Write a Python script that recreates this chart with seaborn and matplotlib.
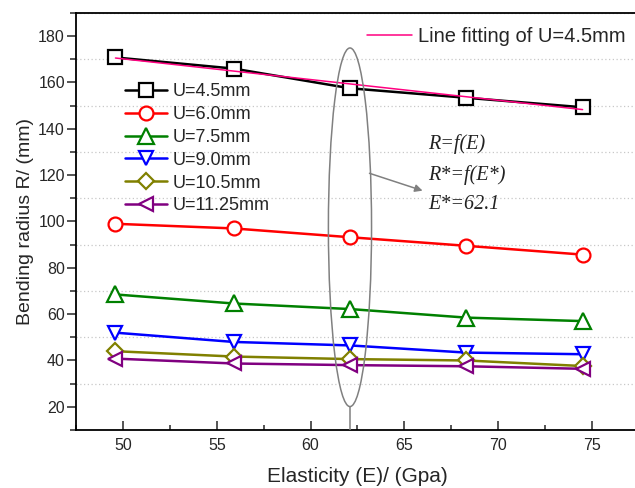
import numpy as np
import pandas as pd
import matplotlib
matplotlib.use("Agg")
import matplotlib.pyplot as plt
import seaborn as sns
from matplotlib.patches import Ellipse
from matplotlib.ticker import MultipleLocator

# Elastic modulus of the samples (GPa)
elasticity = [49.6, 55.9, 62.1, 68.3, 74.5]

# Bending radius (mm) for each displacement U
series_labels = ["U=4.5mm", "U=6.0mm", "U=7.5mm", "U=9.0mm", "U=10.5mm", "U=11.25mm"]
r_u45 = [170.8, 166.0, 157.5, 153.4, 149.3]
r_u60 = [99.0, 97.0, 93.2, 89.5, 85.7]
r_u75 = [68.5, 64.6, 62.2, 58.5, 57.0]
r_u90 = [52.0, 48.0, 46.5, 43.4, 42.7]
r_u105 = [44.0, 41.7, 40.6, 40.0, 37.6]
r_u1125 = [40.8, 38.7, 38.0, 37.5, 36.4]
radii = [r_u45, r_u60, r_u75, r_u90, r_u105, r_u1125]

fit_label = "Line fitting of U=4.5mm"
e_star = 62.1
formula_lines = ["R=f(E)", "R*=f(E*)", "E*=62.1"]

colors = ["#000000", "#FF0000", "#008000", "#0000FF", "#808000", "#800080"]
markers = ["s", "o", "^", "v", "D", "<"]
msizes = [9.5, 10, 11, 10.5, 8, 10.5]

sns.set_style("ticks")
plt.rcParams["font.family"] = ["Liberation Sans", "DejaVu Sans"]

fig = plt.figure(figsize=(6.35, 4.88), dpi=100)
ax = fig.add_axes([0.1198, 0.1189, 0.8863, 0.8545])

for vals, lab, col, mk, ms in zip(radii, series_labels, colors, markers, msizes):
    sns.lineplot(x=elasticity, y=vals, ax=ax, color=col, marker=mk,
                 markersize=ms, markerfacecolor="white", markeredgecolor=col,
                 markeredgewidth=1.6, linewidth=1.8, label=lab, zorder=3)

# linear fit of the U=4.5mm series
sns.regplot(x=elasticity, y=r_u45, ax=ax, scatter=False, ci=None, truncate=True,
            color="#FF0080", line_kws={"linewidth": 1.1, "zorder": 4})
fit_line = ax.lines[-1]

handles, labels = ax.get_legend_handles_labels()
if ax.legend_:
    ax.legend_.remove()

leg1 = fig.legend(handles[:6], series_labels, loc="upper left",
                  bbox_to_anchor=(0.1969, 0.829), frameon=False,
                  borderpad=0, borderaxespad=0, fontsize=13,
                  handlelength=2.35, handletextpad=0.3, labelspacing=0.32,
                  numpoints=1)
leg2 = fig.legend([fit_line], [fit_label], loc="upper left",
                  bbox_to_anchor=(0.5775, 0.945), frameon=False,
                  borderpad=0, borderaxespad=0, fontsize=14.5,
                  handlelength=2.25, handletextpad=0.3)

# ellipse marking E*, with a drop line to the axis
ell_bottom, ell_top = 20.1, 174.9
ax.add_patch(Ellipse((e_star, (ell_bottom + ell_top) / 2), width=2.3,
                     height=ell_top - ell_bottom, fill=False,
                     edgecolor="#808080", linewidth=1.1, zorder=5))
ax.vlines(e_star, 10, ell_bottom, color="#808080", linewidth=1.1, zorder=5)
ax.annotate("", xy=(65.97, 113.3), xytext=(63.14, 120.8),
            arrowprops=dict(arrowstyle="-|>", color="#808080", lw=1.1,
                            mutation_scale=11, shrinkA=0, shrinkB=0),
            zorder=5)
for txt, yv in zip(formula_lines, [133.5, 120.1, 107.5]):
    ax.text(66.27, yv, txt, family="Liberation Serif", style="italic",
            fontsize=14.5, ha="left", va="center", color="#222222")

ax.set_xlim(47.5, 77.5)
ax.set_ylim(10, 190)
ax.xaxis.set_major_locator(MultipleLocator(5))
ax.xaxis.set_minor_locator(MultipleLocator(2.5))
ax.yaxis.set_major_locator(MultipleLocator(20))
ax.yaxis.set_minor_locator(MultipleLocator(10))
ax.set_yticks(range(20, 181, 20))

ax.grid(False)
ax.grid(which="minor", axis="y", linestyle=(0, (1, 2)), color="#C8C8C8",
        linewidth=0.9)
ax.set_axisbelow(True)

ax.tick_params(axis="x", which="major", direction="in", length=6.5, width=1.1,
               labelsize=11.5, pad=6)
ax.tick_params(axis="x", which="minor", direction="in", length=3.6, width=1.1)
ax.tick_params(axis="y", which="major", direction="out", length=6.5, width=1.1,
               labelsize=11.5, pad=1.5)
ax.tick_params(axis="y", which="minor", direction="out", length=4.3, width=1.1)

for side in ["left", "top", "bottom"]:
    ax.spines[side].set_color("black")
    ax.spines[side].set_linewidth(1.3)
    ax.spines[side].set_visible(True)
ax.spines["right"].set_visible(False)

ax.set_xlabel("Elasticity (E)/ (Gpa)", fontsize=15)
ax.set_ylabel("Bending radius R/ (mm)", fontsize=14)
ax.xaxis.set_label_coords(0.5, -0.088)
ax.yaxis.labelpad = 3

fig.savefig("out.png", dpi=100)
